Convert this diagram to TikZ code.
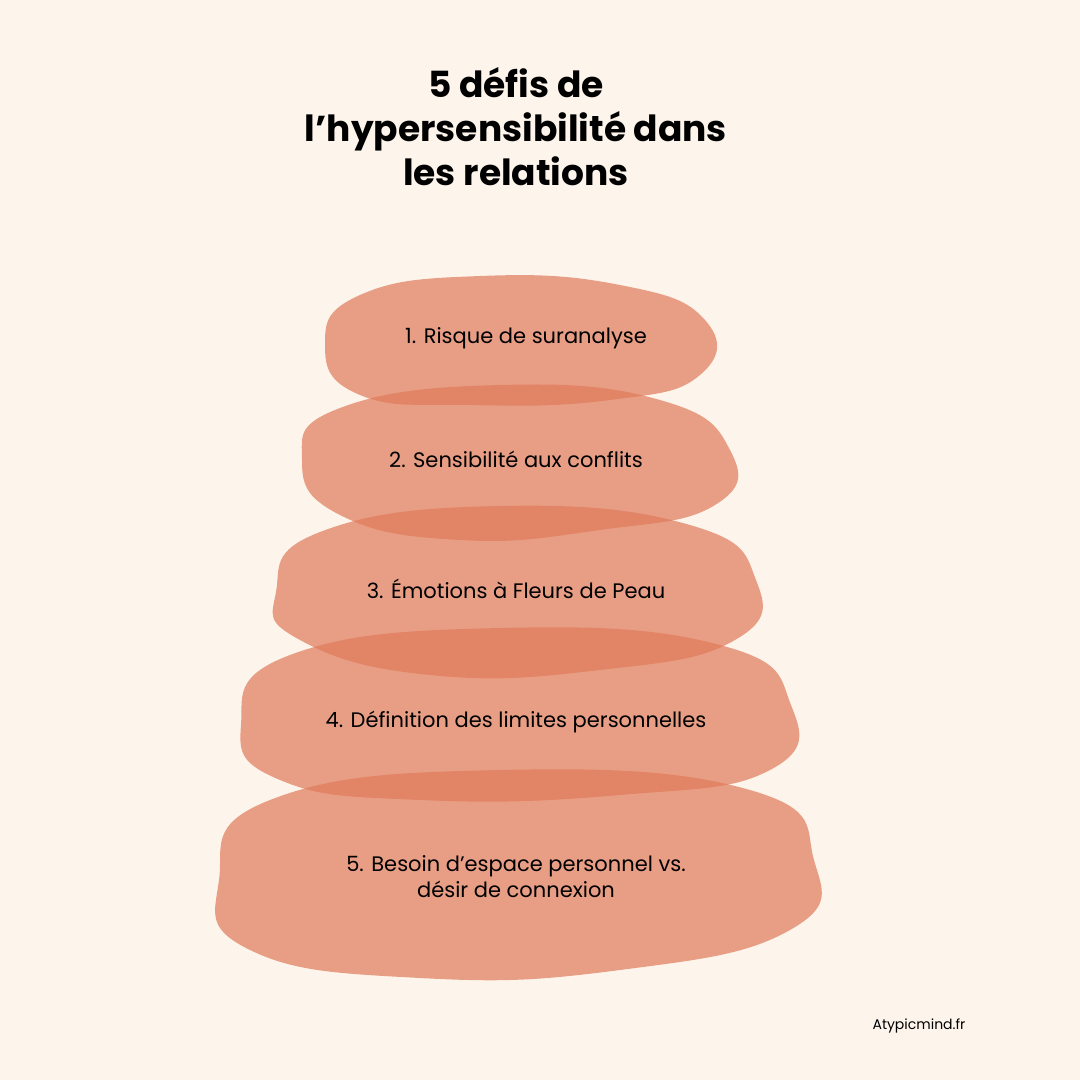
\documentclass[tikz,border=0pt]{standalone}
\usepackage{fontspec}
\setmainfont{Poppins}
\definecolor{bg}{HTML}{FDF5EC}
\definecolor{blob}{HTML}{E07A5A}
\begin{document}
\begin{tikzpicture}[x=1pt,y=-1pt,
  stone/.style={fill=blob,fill opacity=0.7,draw=none},
  lbl/.style={font=\fontsize{21}{26}\selectfont,text=black,align=center}]
\fill[bg] (0,0) rectangle (1080,1080);
\useasboundingbox (0,0) rectangle (1080,1080);
\node[font=\bfseries\fontsize{36}{44}\selectfont,align=center] (title) at (516,127) {5 défis de\\l'hypersensibilité dans\\les relations};
\path[stone] plot[smooth cycle,tension=0.8] coordinates {(325,345)(360,295)(480,276)(620,285)(705,320)(700,375)(610,400)(470,405)(360,395)} ;
\path[stone] plot[smooth cycle,tension=0.8] coordinates {(302,460)(340,408)(500,385)(660,400)(730,450)(715,505)(600,530)(460,540)(340,515)};
\path[stone] plot[smooth cycle,tension=0.8] coordinates {(276,592)(320,532)(500,506)(690,525)(756,580)(735,640)(600,670)(430,675)(300,640)};
\path[stone] plot[smooth cycle,tension=0.8] coordinates {(241,725)(290,655)(500,628)(720,645)(791,705)(770,770)(620,795)(420,800)(280,780)};
\path[stone] plot[smooth cycle,tension=0.8] coordinates {(219,880)(270,800)(500,770)(750,790)(814,860)(790,930)(620,970)(420,978)(250,950)};
\node[lbl] (s1) at (526,338) {1. Risque de suranalyse};
\node[lbl] (s2) at (516,459) {2. Sensibilité aux conflits};
\node[lbl] (s3) at (516,589) {3. Émotions à Fleurs de Peau};
\node[lbl] (s4) at (516,722) {4. Définition des limites personnelles};
\node[lbl] (s5) at (516,877) {5. Besoin d'espace personnel vs.\\désir de connexion};
\node[font=\fontsize{14}{16}\selectfont] (url) at (919,1026) {Atypicmind.fr};
\end{tikzpicture}
\end{document}
